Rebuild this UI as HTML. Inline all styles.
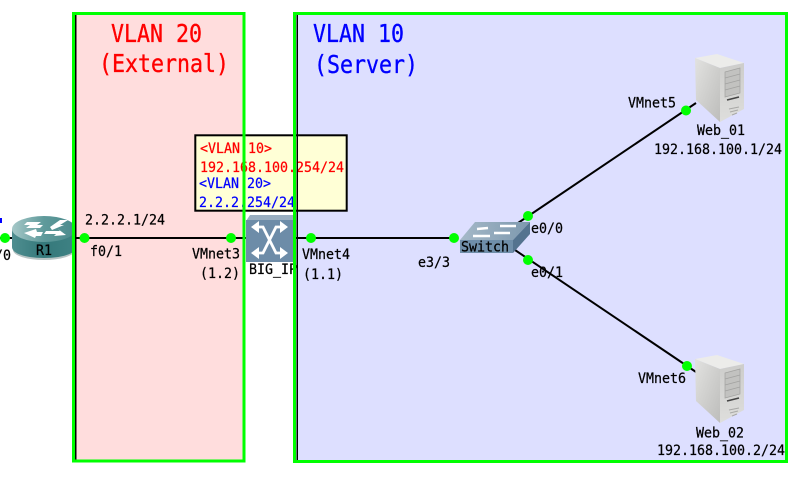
<!DOCTYPE html>
<html><head><meta charset="utf-8"><style>
html,body{margin:0;padding:0;background:#fff}
svg{display:block}
text{font-family:"DejaVu Sans Mono",monospace;font-size:13.3px;fill:#000;stroke:#000;stroke-width:.22px}
.t{font-size:21.6px;stroke-width:.3px}
.r{fill:#f00;stroke:#f00}.b{fill:#00f;stroke:#00f}
</style></head><body>
<svg width="788" height="485" viewBox="0 0 788 485" xmlns="http://www.w3.org/2000/svg">
<defs>
<linearGradient id="srv" x1="0" x2="1" y1="0" y2="1"><stop offset="0" stop-color="#e2e2e0"/><stop offset="1" stop-color="#bdbdbb"/></linearGradient>
<linearGradient id="srv2" x1="0" x2="0" y1="0" y2="1"><stop offset="0" stop-color="#cdcdcb"/><stop offset="1" stop-color="#dededc"/></linearGradient>
<linearGradient id="rt" x1="0" x2="1" y1="0" y2="0"><stop offset="0" stop-color="#4f8e90"/><stop offset=".5" stop-color="#35797b"/><stop offset="1" stop-color="#3f8284"/></linearGradient>
<linearGradient id="rtt" x1="0" x2="1" y1="0" y2="0"><stop offset="0" stop-color="#a6c8c8"/><stop offset=".5" stop-color="#5f9a9b"/><stop offset="1" stop-color="#4a8a8c"/></linearGradient>
<linearGradient id="swt" x1="0" x2="1" y1="0" y2="0"><stop offset="0" stop-color="#a5b9c8"/><stop offset="1" stop-color="#7d98ae"/></linearGradient>
<g id="server">
<polygon points="695,58 717,54 744,63 720,68" fill="#ececea"/>
<polygon points="695,58 720,68 720,122 696,100" fill="url(#srv)"/>
<polygon points="720,68 744,63 744,109 720,122" fill="url(#srv2)"/>
<polygon points="725,72 740,68 740,93 725,97" fill="#c2c2c0" stroke="#a2a2a0" stroke-width=".7"/>
<path d="M725 78L740 74M725 84L740 80M725 90L740 86" stroke="#a2a2a0" stroke-width=".8"/>
<path d="M727 100L739 97" stroke="#444" stroke-width="1.500"/>
<path d="M729 109L739 107M730 112L738 110M732 115L737 113" stroke="#a8a8a6" stroke-width="1"/>
</g>
</defs>

<rect x="74" y="14" width="170" height="447" fill="#ffdddd"/>
<rect x="295" y="14" width="491" height="447" fill="#dddfff"/>

<rect x="195.300" y="135.300" width="151.400" height="75.400" fill="#ffffd6" stroke="#000" stroke-width="2"/>

<rect x="0" y="218" width="2" height="5" fill="#00f"/>
<path d="M0 238H454" stroke="#000" stroke-width="2"/>
<path d="M518 223L696 103M512 248L696 372" stroke="#000" stroke-width="2"/>

<!-- router -->
<ellipse cx="44" cy="250" rx="31" ry="10" fill="#b8c4c4"/>
<path d="M12 229V247C12 254 27 258 44 258C61 258 76 254 76 247V229Z" fill="url(#rt)"/>
<ellipse cx="44" cy="229" rx="32" ry="13" fill="url(#rtt)"/>
<path d="M27 222H41L37 225H43L40 228H26L30 225H24ZM50 227L60 220H68L60 225H64L52 230ZM24 233L36 229L37 232H43L41 236H36L35 238ZM46 231H60L58 229L66 235L54 236L56 234H44Z" fill="#fff"/>

<!-- big ip -->
<polygon points="246,221 250,215 293,215 293,221" fill="#98adc0"/>
<rect x="246" y="220" width="47" height="42" fill="#6d8ca8"/>
<path d="M256 227H263L276 253H283M256 253H263L276 227H283" stroke="#fff" stroke-width="2.800" fill="none"/>
<path d="M251 227L259 221V233ZM288 227L280 221V233ZM251 253L259 247V259ZM288 253L280 247V259Z" fill="#fff"/>

<!-- switch -->
<polygon points="460,240 475,222 530,222 513,240" fill="url(#swt)"/>
<polygon points="460,240 513,240 513,253 460,253" fill="#6f8ea9"/>
<polygon points="513,240 530,222 530,234 513,253" fill="#54738f"/>
<path d="M477 229L488 228M500 226H516M473 236H490M494 233H510" stroke="#fff" stroke-width="2.400"/>

<use href="#server"/>
<use href="#server" y="301"/>

<g fill="#00ff00">
<circle cx="5" cy="238" r="5"/><circle cx="84.500" cy="238" r="5"/><circle cx="231" cy="238" r="5"/><circle cx="311" cy="238" r="5"/>
<circle cx="454" cy="238" r="5"/><circle cx="528" cy="216" r="5"/><circle cx="528" cy="260" r="5"/>
<circle cx="686" cy="110.500" r="5"/><circle cx="687" cy="366" r="5"/>
</g>

<text transform="translate(-21 260) scale(1 1.08)">f0/0</text>
<text transform="translate(36 255) scale(1 1.08)">R1</text>
<text transform="translate(85 224.500) scale(1 1.08)">2.2.2.1/24</text>
<text transform="translate(90 256) scale(1 1.08)">f0/1</text>
<text transform="translate(192 258.500) scale(1 1.08)">VMnet3</text>
<text transform="translate(200 278) scale(1 1.08)">(1.2)</text>
<text transform="translate(249 274) scale(1 1.08)">BIG_IP</text>
<text transform="translate(302 259) scale(1 1.08)">VMnet4</text>
<text transform="translate(303 279) scale(1 1.08)">(1.1)</text>
<text transform="translate(461 251.500) scale(1 1.08)">Switch</text>
<text transform="translate(418 267) scale(1 1.08)">e3/3</text>
<text transform="translate(531 233) scale(1 1.08)">e0/0</text>
<text transform="translate(531 277) scale(1 1.08)">e0/1</text>
<text transform="translate(628 107.500) scale(1 1.08)">VMnet5</text>
<text transform="translate(697 135) scale(1 1.08)">Web_01</text>
<text transform="translate(654 154) scale(1 1.08)">192.168.100.1/24</text>
<text transform="translate(638 383) scale(1 1.08)">VMnet6</text>
<text transform="translate(696 437.500) scale(1 1.08)">Web_02</text>
<text transform="translate(657 455) scale(1 1.08)">192.168.100.2/24</text>

<text class="r" transform="translate(200 153) scale(1 1.08)">&lt;VLAN 10&gt;</text>
<text class="r" transform="translate(200 172) scale(1 1.08)">192.168.100.254/24</text>
<text class="b" transform="translate(199 188) scale(1 1.08)">&lt;VLAN 20&gt;</text>
<text class="b" transform="translate(199 207) scale(1 1.08)">2.2.2.254/24</text>

<text class="t r" transform="translate(111 42) scale(1 1.15)">VLAN 20</text>
<text class="t r" transform="translate(99 72) scale(1 1.15)">(External)</text>
<text class="t b" transform="translate(313 42) scale(1 1.15)">VLAN 10</text>
<text class="t b" transform="translate(314 73) scale(1 1.15)">(Server)</text>

<!-- zone borders -->
<rect x="75" y="15" width="1.500" height="445" fill="#000"/>
<rect x="296.500" y="15" width="1.500" height="445" fill="#000"/>
<rect x="73.500" y="13.500" width="170.500" height="447.500" fill="none" stroke="#00ff00" stroke-width="3"/>
<rect x="294.500" y="13.500" width="492" height="448" fill="none" stroke="#00ff00" stroke-width="3"/>
</svg>
</body></html>
